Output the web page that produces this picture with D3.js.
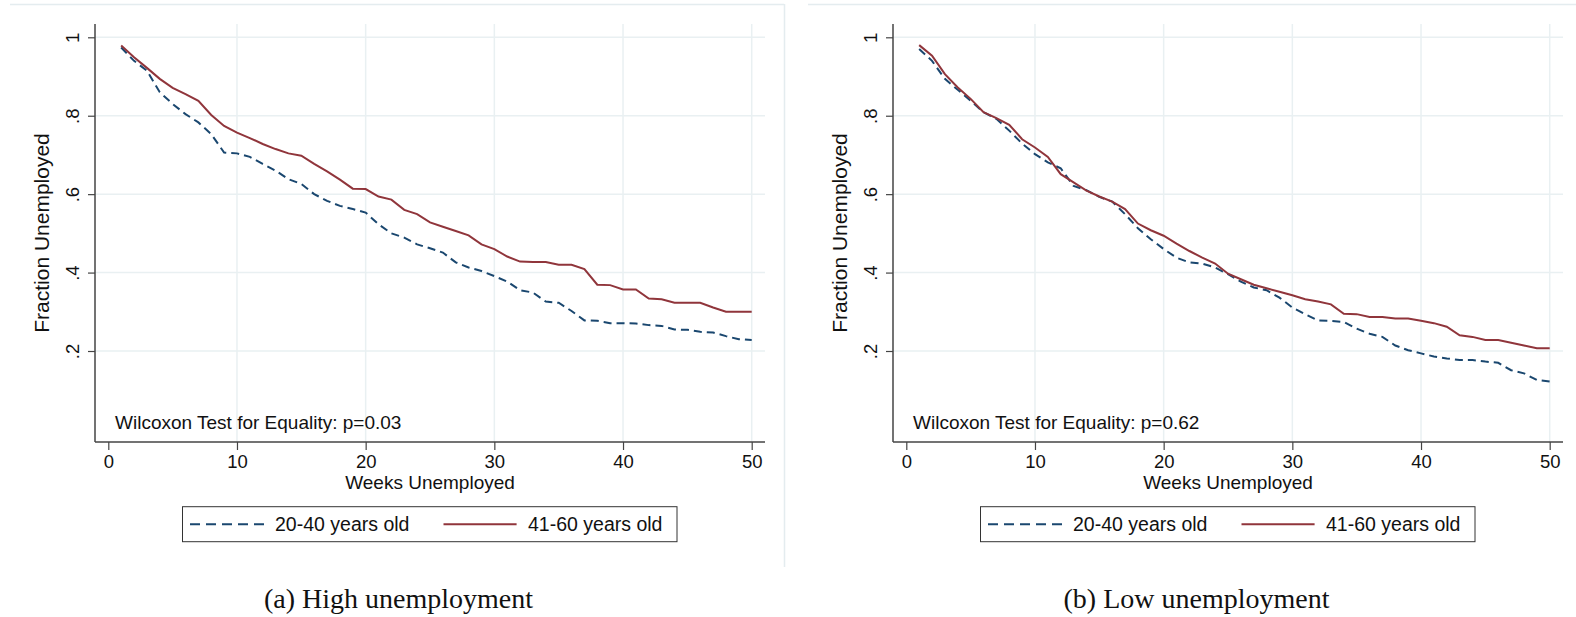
<!DOCTYPE html>
<html>
<head>
<meta charset="utf-8">
<script src="https://cdn.jsdelivr.net/npm/d3@7"></script>
<style>
  body { margin: 0; background: #fff; }
  text { font-family: "Liberation Sans", Arial, sans-serif; fill: #111; }
  .caption { font-family: "Liberation Serif", "Times New Roman", serif; }
</style>
</head>
<body>
<svg width="1576" height="617"></svg>
<script>
let weeks = [1,2,3,4,5,6,7,8,9,10,11,12,13,14,15,16,17,18,19,20,21,22,23,24,25,
  26,27,28,29,30,31,32,33,34,35,36,37,38,39,40,41,42,43,44,45,46,47,48,49,50]

// (a) high unemployment
let highYoung = [0.974,0.940,0.915,0.860,0.830,0.804,0.783,0.753,0.706,0.704,
  0.695,0.677,0.660,0.638,0.626,0.600,0.583,0.570,0.562,0.553,
  0.523,0.500,0.489,0.472,0.462,0.451,0.426,0.413,0.404,0.391,
  0.377,0.355,0.349,0.326,0.323,0.302,0.278,0.277,0.271,0.271,
  0.270,0.266,0.264,0.255,0.254,0.249,0.247,0.238,0.230,0.228]
let highOld = [0.979,0.949,0.922,0.894,0.871,0.855,0.838,0.802,0.774,0.757,
  0.743,0.728,0.715,0.704,0.698,0.677,0.658,0.637,0.614,0.613,
  0.594,0.586,0.560,0.549,0.528,0.517,0.506,0.495,0.472,0.460,
  0.441,0.428,0.427,0.427,0.420,0.420,0.409,0.369,0.368,0.357,
  0.357,0.334,0.332,0.323,0.323,0.323,0.311,0.300,0.300,0.300]

// (b) low unemployment
let lowYoung = [0.970,0.940,0.894,0.866,0.838,0.809,0.792,0.762,0.729,0.702,
  0.681,0.666,0.621,0.610,0.593,0.581,0.549,0.513,0.485,0.460,
  0.438,0.426,0.423,0.413,0.396,0.377,0.362,0.355,0.336,0.311,
  0.294,0.278,0.277,0.274,0.257,0.244,0.236,0.214,0.202,0.194,
  0.186,0.181,0.177,0.177,0.173,0.170,0.151,0.143,0.126,0.122]
let lowOld = [0.980,0.953,0.906,0.872,0.843,0.809,0.794,0.777,0.740,0.719,
  0.695,0.651,0.630,0.609,0.594,0.581,0.562,0.525,0.508,0.494,
  0.474,0.455,0.438,0.423,0.397,0.383,0.369,0.360,0.351,0.342,
  0.332,0.326,0.319,0.295,0.294,0.287,0.287,0.283,0.283,0.277,
  0.271,0.262,0.240,0.236,0.228,0.228,0.221,0.214,0.207,0.207]

let xTicks = [0, 10, 20, 30, 40, 50]
let yTicks = [0.2, 0.4, 0.6, 0.8, 1]
let yTickLabels = [".2", ".4", ".6", ".8", "1"]
let seriesNames = ["20-40 years old", "41-60 years old"]

let blue = "#1a476f"
let red = "#90353b"
let grid = "#e9f0f2"
let axisColor = "#444"

let svg = d3.select("svg")

function drawPanel(offset, young, old, pValue, caption) {
  let g = svg.append("g").attr("transform", "translate(" + offset + ",0)")

  let left = 95, right = 765, top = 24, bottom = 442

  let x = d3.scaleLinear().domain([0, 50]).range([108.3, 751.7])
  let y = d3.scaleLinear().domain([0.2, 1]).range([351, 37.3])

  // panel frame
  g.append("line").attr("x1", 10).attr("x2", 784).attr("y1", 4.5).attr("y2", 4.5)
    .attr("stroke", "#e4ecef").attr("stroke-width", 1.5)
  g.append("line").attr("x1", 784.5).attr("x2", 784.5).attr("y1", 4).attr("y2", 567)
    .attr("stroke", "#e4ecef").attr("stroke-width", 1.5)

  // grid
  g.selectAll(".hgrid").data(yTicks).enter().append("line")
    .attr("x1", left).attr("x2", right)
    .attr("y1", d => y(d)).attr("y2", d => y(d))
    .attr("stroke", grid).attr("stroke-width", 1.5)
  g.selectAll(".vgrid").data(xTicks.slice(1)).enter().append("line")
    .attr("x1", d => x(d)).attr("x2", d => x(d))
    .attr("y1", top).attr("y2", bottom)
    .attr("stroke", grid).attr("stroke-width", 1.5)

  // axes
  let xAxis = g.append("g").attr("transform", "translate(0," + bottom + ")")
    .call(d3.axisBottom(x).tickValues(xTicks).tickSize(8).tickPadding(5).tickSizeOuter(0))
  xAxis.select(".domain").remove()
  xAxis.append("line").attr("x1", left).attr("x2", right).attr("stroke", axisColor).attr("stroke-width", 1.5)
  xAxis.selectAll(".tick line").attr("stroke", axisColor).attr("stroke-width", 1.2)
  xAxis.selectAll(".tick text").attr("font-size", 18.5).attr("fill", "#111")
    .attr("font-family", "Liberation Sans, Arial, sans-serif")

  let yAxis = g.append("g").attr("transform", "translate(" + left + ",0)")
    .call(d3.axisLeft(y).tickValues(yTicks).tickSize(7).tickFormat((d, i) => yTickLabels[i]).tickSizeOuter(0))
  yAxis.select(".domain").remove()
  yAxis.append("line").attr("y1", top).attr("y2", bottom).attr("stroke", axisColor).attr("stroke-width", 1.5)
  yAxis.selectAll(".tick line").attr("stroke", axisColor).attr("stroke-width", 1.2)
  yAxis.selectAll(".tick text")
    .attr("font-size", 18.5).attr("fill", "#111")
    .attr("font-family", "Liberation Sans, Arial, sans-serif")
    .attr("x", -16.5).attr("dy", null).attr("y", 0)
    .attr("text-anchor", "middle")
    .attr("transform", "rotate(-90,-16.5,0)")

  // titles
  g.append("text").attr("x", 430).attr("y", 489).attr("text-anchor", "middle")
    .attr("font-size", 19).text("Weeks Unemployed")
  g.append("text").attr("transform", "translate(49,233) rotate(-90)")
    .attr("text-anchor", "middle").attr("font-size", 21).text("Fraction Unemployed")

  g.append("text").attr("x", 115).attr("y", 428.5).attr("font-size", 19)
    .text("Wilcoxon Test for Equality: p=" + pValue)

  // curves
  let line = d3.line().x((d, i) => x(weeks[i])).y(d => y(d))

  g.append("path").datum(young).attr("d", line)
    .attr("fill", "none").attr("stroke", blue).attr("stroke-width", 2)
    .attr("stroke-dasharray", "8,5")
  g.append("path").datum(old).attr("d", line)
    .attr("fill", "none").attr("stroke", red).attr("stroke-width", 2)

  // legend
  let lg = g.append("g")
  lg.append("rect").attr("x", 182.5).attr("y", 506.7).attr("width", 494.5).attr("height", 35)
    .attr("fill", "#fff").attr("stroke", "#333").attr("stroke-width", 1)
  lg.append("line").attr("x1", 190).attr("x2", 264).attr("y1", 524.3).attr("y2", 524.3)
    .attr("stroke", blue).attr("stroke-width", 2).attr("stroke-dasharray", "10,6")
  lg.append("text").attr("x", 275).attr("y", 531).attr("font-size", 19.5).text(seriesNames[0])
  lg.append("line").attr("x1", 443.5).attr("x2", 516.6).attr("y1", 524.3).attr("y2", 524.3)
    .attr("stroke", red).attr("stroke-width", 2)
  lg.append("text").attr("x", 528).attr("y", 531).attr("font-size", 19.5).text(seriesNames[1])

  g.append("text").attr("class", "caption").attr("x", 398.5).attr("y", 608)
    .attr("text-anchor", "middle").attr("font-size", 28).text(caption)
}

drawPanel(0, highYoung, highOld, "0.03", "(a) High unemployment")
drawPanel(798, lowYoung, lowOld, "0.62", "(b) Low unemployment")
</script>
</body>
</html>
